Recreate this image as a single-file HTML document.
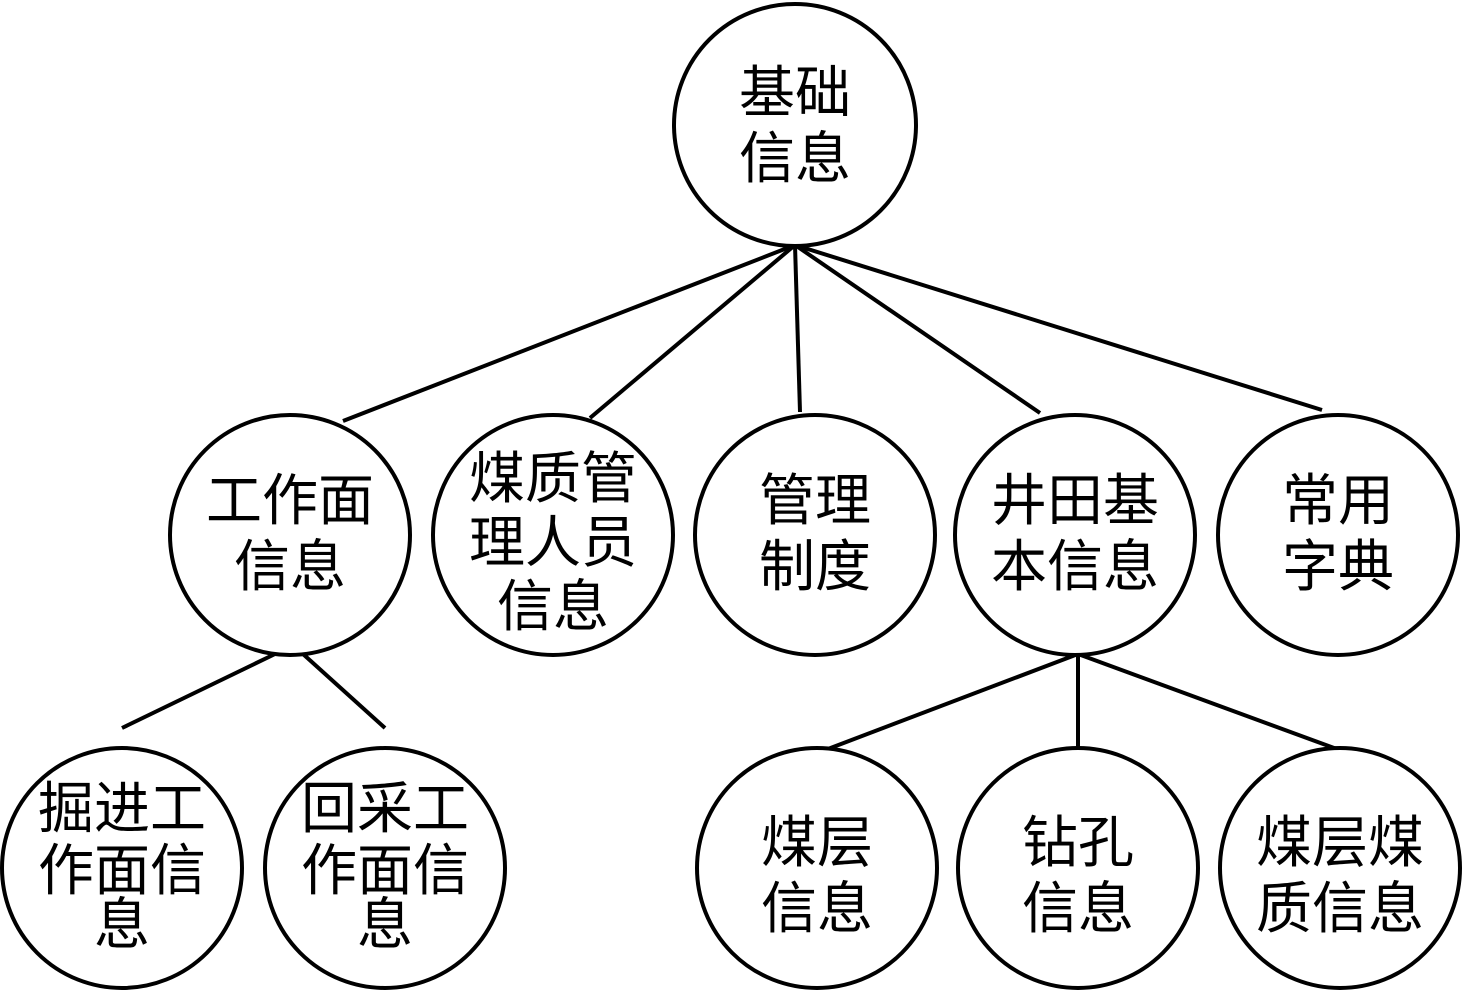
<!DOCTYPE html>
<html><head><meta charset="utf-8"><style>
html,body{margin:0;padding:0;background:#fff;}
svg text{font-family:"Liberation Sans","Noto Sans CJK SC",sans-serif;font-size:56px;fill:#000;text-anchor:middle;}
</style></head><body>
<svg width="1465" height="1000" viewBox="0 0 1465 1000" xmlns="http://www.w3.org/2000/svg">
<g stroke="#000" stroke-width="4" fill="none">
<line x1="795" y1="245" x2="343" y2="421"/>
<line x1="795" y1="245" x2="590" y2="418"/>
<line x1="795" y1="245" x2="800" y2="412"/>
<line x1="795" y1="245" x2="1040" y2="413"/>
<line x1="795" y1="245" x2="1322" y2="410"/>
<line x1="275" y1="654" x2="122" y2="728"/>
<line x1="303" y1="654" x2="385" y2="728"/>
<line x1="1078" y1="654" x2="820" y2="752"/>
<line x1="1078" y1="654" x2="1078" y2="750"/>
<line x1="1078" y1="654" x2="1345" y2="752"/>
<circle cx="795" cy="125" r="121" fill="#fff"/>
<circle cx="290" cy="535" r="120" fill="#fff"/>
<circle cx="553" cy="535" r="120" fill="#fff"/>
<circle cx="815" cy="535" r="120" fill="#fff"/>
<circle cx="1075" cy="535" r="120" fill="#fff"/>
<circle cx="1338" cy="535" r="120" fill="#fff"/>
<circle cx="122" cy="868" r="120" fill="#fff"/>
<circle cx="385" cy="868" r="120" fill="#fff"/>
<circle cx="817" cy="868" r="120" fill="#fff"/>
<circle cx="1078" cy="868" r="120" fill="#fff"/>
<circle cx="1340" cy="868" r="120" fill="#fff"/>
</g>
<text x="795" y="112">基础</text><text x="795" y="178">信息</text>
<text x="290" y="520">工作面</text><text x="290" y="586">信息</text>
<text x="553" y="498">煤质管</text><text x="553" y="562">理人员</text><text x="553" y="626">信息</text>
<text x="815" y="520">管理</text><text x="815" y="586">制度</text>
<text x="1075" y="520">井田基</text><text x="1075" y="586">本信息</text>
<text x="1338" y="520">常用</text><text x="1338" y="586">字典</text>
<text x="122" y="828">掘进工</text><text x="122" y="890">作面信</text><text x="122" y="944">息</text>
<text x="385" y="828">回采工</text><text x="385" y="890">作面信</text><text x="385" y="944">息</text>
<text x="817" y="862">煤层</text><text x="817" y="928">信息</text>
<text x="1078" y="862">钻孔</text><text x="1078" y="928">信息</text>
<text x="1340" y="862">煤层煤</text><text x="1340" y="928">质信息</text>
</svg>
</body></html>
